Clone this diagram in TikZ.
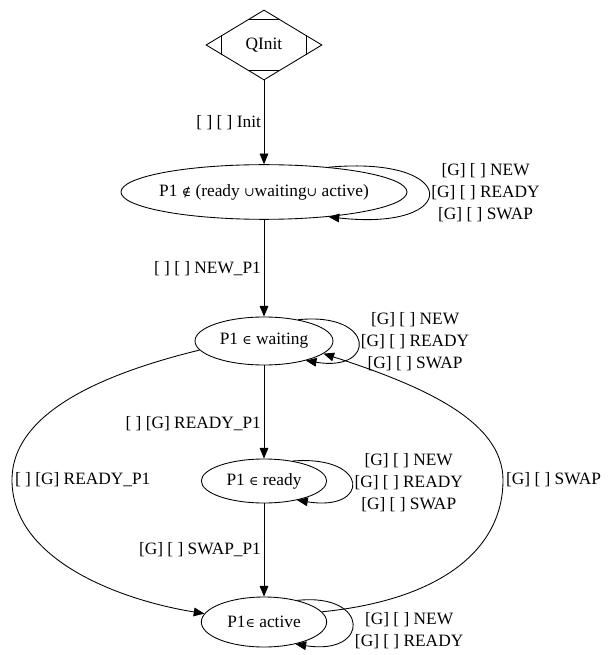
\documentclass[tikz,border=0pt]{standalone}
\usepackage{fontspec}
\setmainfont{Liberation Serif}
\newfontfamily\symfnt{DejaVu Serif}
\newcommand{\smsym}[1]{{\symfnt\fontsize{9.5}{11}\selectfont #1}}
\usetikzlibrary{arrows.meta,shapes.geometric,calc}

\begin{document}
\begin{tikzpicture}[x=0.75pt,y=-0.75pt,line width=0.65pt,
  >={Triangle[length=8pt,width=6.5pt]},
  every node/.style={font=\fontsize{13}{16.5}\selectfont},
  state/.style={ellipse,draw,inner xsep=0pt,inner ysep=0pt},
  trans/.style={->},
  lbl/.style={align=center,inner sep=2pt}]
  \useasboundingbox (0,0) rectangle (608,655);
  % initial node
  \node[diamond,draw,inner sep=0pt,minimum width=87pt,minimum height=52.5pt] (q0) at (264,45) {QInit};
  \draw ($(q0.north)!0.28!(q0.west)$) -- ($(q0.north)!0.28!(q0.east)$);
  \draw ($(q0.south)!0.28!(q0.west)$) -- ($(q0.south)!0.28!(q0.east)$);
  \draw ($(q0.west)!0.28!(q0.north)$) -- ($(q0.west)!0.28!(q0.south)$);
  \draw ($(q0.east)!0.28!(q0.north)$) -- ($(q0.east)!0.28!(q0.south)$);
  % states
  \node[state,minimum width=214.5pt,minimum height=41pt,inner xsep=-15pt] (s0) at (264,192) {P1 \smsym{∉}\ (ready \smsym{∪}waiting\smsym{∪}\ active)};
  \node[state,minimum width=103.5pt,minimum height=36pt] (s1) at (264,341) {P1 \smsym{∈}\ waiting};
  \node[state,minimum width=94pt,minimum height=33pt] (s2) at (264,481) {P1 \smsym{∈}\ ready};
  \node[state,minimum width=94pt,minimum height=37.5pt] (s3) at (264,622) {P1\smsym{∈}\ active};
  % main chain
  \draw[trans] (q0) -- node[left,lbl] {[ ] [ ] Init} (s0);
  \draw[trans] (s0) -- node[left,lbl] {[ ] [ ] NEW\_P1} (s1);
  \draw[trans] (s1) -- node[left,lbl,pos=.62] {[ ] [G] READY\_P1} (s2);
  \draw[trans] (s2) -- node[left,lbl] {[G] [ ] SWAP\_P1} (s3);
  % self loops
  \draw[trans] (s0.21) .. controls +(133,-12) and +(133,15) .. node[right,lbl] {[G] [ ] NEW\\{[G]} [ ] READY\\{[G]} [ ] SWAP} (s0.-21);
  \draw[trans] (s1.32) .. controls +(78,-8) and +(71,12) .. node[right,lbl] {[G] [ ] NEW\\{[G]} [ ] READY\\{[G]} [ ] SWAP} (s1.-25);
  \draw[trans] (s2.35) .. controls +(78,-6) and +(73,12) .. node[right,lbl] {[G] [ ] NEW\\{[G]} [ ] READY\\{[G]} [ ] SWAP} (s2.-30);
  \draw[trans] (s3.33) .. controls +(73,-8) and +(75,12) .. node[right,lbl,yshift=-5pt] {[G] [ ] NEW\\{[G]} [ ] READY} (s3.-35);
  % long arcs
  \draw[trans] (s1.188) .. controls (110,372) and (12,410) .. (12,480) node[right,lbl] {[ ] [G] READY\_P1}
    .. controls (12,560) and (120,600) .. (s3.172);
  \draw[trans] (s3.10) .. controls (440,600) and (503,550) .. (503,480) node[right,lbl] {[G] [ ] SWAP}
    .. controls (503,420) and (420,385) .. (s1.-12);
\end{tikzpicture}
\end{document}
